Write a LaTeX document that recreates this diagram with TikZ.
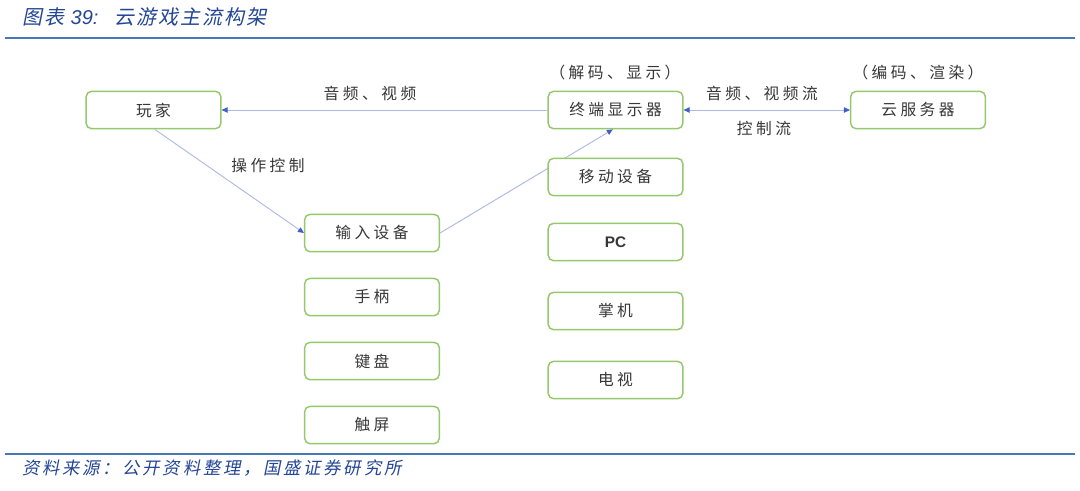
\documentclass[tikz,border=0pt]{standalone}
\usepackage{fontspec}
\setmainfont{Noto Sans CJK SC}
\newfontfamily\cjkbox[LetterSpace=22]{Noto Sans CJK SC}
\newfontfamily\cjktitle[LetterSpace=10,FakeSlant=0.2]{Noto Sans CJK SC}
\newfontfamily\cjkfoot[LetterSpace=16,FakeSlant=0.2]{Noto Sans CJK SC}
\newfontfamily\lattitle{Liberation Sans}
\newfontfamily\latbox{Liberation Sans}
\usetikzlibrary{arrows.meta}
\definecolor{boxgreen}{RGB}{150,200,110}
\definecolor{txtgray}{RGB}{55,55,55}
\definecolor{linecol}{RGB}{175,185,228}
\definecolor{tipblue}{RGB}{60,95,200}
\definecolor{titleblue}{RGB}{35,70,150}
\definecolor{rulecol}{RGB}{70,120,180}
\begin{document}
\begin{tikzpicture}[x=0.75pt,y=-0.75pt,
  box/.style={draw=boxgreen, line width=1.1pt, rounded corners=4pt, fill=white,
    minimum width=101pt, minimum height=28pt, inner sep=0pt,
    font=\cjkbox\fontsize{11.8}{12}\selectfont, text=txtgray},
  lbl/.style={inner sep=0pt, font=\cjkbox\fontsize{11.8}{12}\selectfont, text=txtgray},
  conn/.style={draw=linecol, line width=0.7pt, -{Triangle[length=4.5pt,width=4pt,color=tipblue]}},
  rule/.style={draw=rulecol, line width=1.4pt}]
\useasboundingbox (0,0) rectangle (1080,490);
\fill[white] (0,0) rectangle (1080,490);

% title and rules
\node[anchor=west, inner sep=0pt, text=titleblue] (title) at (22,17)
  {\cjktitle\fontsize{15}{15}\selectfont 图表 {\lattitle\itshape 39:}\hspace{12pt}云游戏主流构架};
\coordinate (r1a) at (5,38); \coordinate (r1b) at (1075,38);
\draw[rule] (r1a) -- (r1b);
\coordinate (r2a) at (5,454); \coordinate (r2b) at (1075,454);
\draw[rule] (r2a) -- (r2b);
\node[anchor=west, inner sep=0pt, text=titleblue] (foot) at (22,468)
  {\cjkfoot\fontsize{13}{13}\selectfont 资料来源：公开资料整理，国盛证券研究所};

% boxes
\node[box] (wj) at (153.5,110) {玩家};
\node[box] (zd) at (615.5,110) {终端显示器};
\node[box] (yf) at (918,110) {云服务器};
\node[box] (srr) at (372,233) {输入设备};
\node[box] (sb) at (372,297) {手柄};
\node[box] (jp) at (372,361) {键盘};
\node[box] (cp) at (372,425) {触屏};

\draw[conn] (srr.east) -- ([xshift=-2pt]zd.south);

\node[box] (yd) at (615.5,177) {移动设备};
\node[box] (pc) at (615.5,242) {\latbox\bfseries\fontsize{11.5}{12}\selectfont PC};
\node[box] (zj) at (615.5,311) {掌机};
\node[box] (ds) at (615.5,380) {电视};

\draw[conn] (zd.west) -- (wj.east);
\draw[conn] ([xshift=1pt]wj.south) -- (srr.west);
\draw[draw=linecol, line width=0.7pt, {Triangle[length=4.5pt,width=4pt,color=tipblue]}-{Triangle[length=4.5pt,width=4pt,color=tipblue]}] (zd.east) -- (yf.west);

% labels
\node[lbl] (l1) at (370,93) {音频、视频};
\node[lbl] (l2) at (268,166) {操作控制};
\node[lbl] (l3) at (615,73) {（解码、显示）};
\node[lbl] (l4) at (918,73) {（编码、渲染）};
\node[lbl] (l5) at (762,93) {音频、视频流};
\node[lbl] (l6) at (764,128) {控制流};
\end{tikzpicture}
\end{document}
